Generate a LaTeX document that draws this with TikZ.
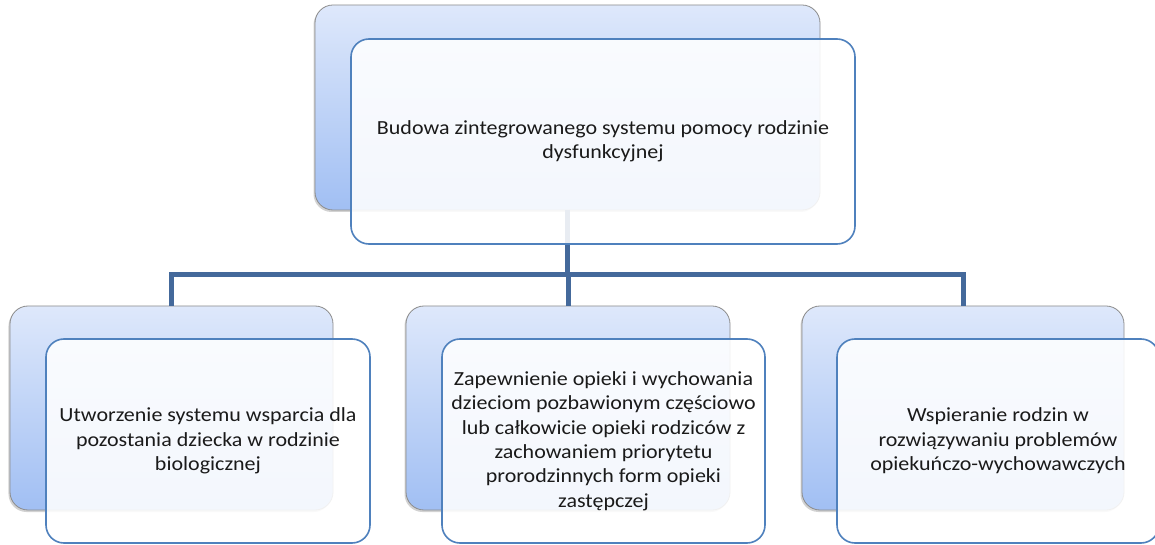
\documentclass[tikz,border=0pt]{standalone}
\usepackage{fontspec}
\setmainfont{Carlito}[FakeStretch=1.1]
\usetikzlibrary{shadows}
\definecolor{connblue}{HTML}{44699B}
\definecolor{frontline}{HTML}{4F81BD}
\definecolor{backtop}{HTML}{DEE8FB}
\definecolor{backbot}{HTML}{A1BFF3}
\definecolor{backline}{HTML}{8C8C8C}
\definecolor{txt}{HTML}{1A1A1A}
\tikzset{
  backbox/.style={rectangle, rounded corners=18bp, draw=backline, line width=0.8bp,
    top color=backtop, bottom color=backbot,
    drop shadow={shadow xshift=-1.5bp, shadow yshift=-2bp, opacity=0.35},
    inner sep=0pt, outer sep=0pt},
  frontbox/.style={rectangle, rounded corners=18bp, draw=frontline, line width=1.6bp,
    fill=white, fill opacity=0.88, text opacity=1, text=txt,
    align=center, font=\fontsize{20bp}{24.4bp}\selectfont,
    inner sep=0pt, outer sep=0pt},
  conn/.style={draw=connblue, line width=5bp, line join=miter},
}
\begin{document}
\begin{tikzpicture}[x=1bp, y=-1bp]
\useasboundingbox (0,0) rectangle (1155,545);
\fill[white] (0,0) rectangle (1155,545);

% back panels
\node[backbox, minimum width=505bp, minimum height=205bp] (tb) at (567.5,107.5) {};
\node[backbox, minimum width=323bp, minimum height=204bp] (b1b) at (171.5,408) {};
\node[backbox, minimum width=324bp, minimum height=204bp] (b2b) at (568,408) {};
\node[backbox, minimum width=322bp, minimum height=204bp] (b3b) at (963,408) {};

% connectors between the levels
\coordinate (bus) at (567.5,275);
\draw[conn] (tb.south) -- (tb.south |- bus);
\draw[conn] (b1b.north) |- (bus) -| (b3b.north);
\draw[conn] (b2b.north) -- (b2b.north |- bus);

% front panels with the texts
\node[frontbox, minimum width=504bp, minimum height=205bp] (tf) at (603,141.5)
  {Budowa zintegrowanego systemu pomocy rodzinie\\dysfunkcyjnej};
\node[frontbox, minimum width=324bp, minimum height=204bp] (b1f) at (208,441)
  {Utworzenie systemu wsparcia dla\\pozostania dziecka w rodzinie\\biologicznej};
\node[frontbox, minimum width=323bp, minimum height=204bp] (b2f) at (603.5,441)
  {Zapewnienie opieki i wychowania\\dzieciom pozbawionym częściowo\\lub całkowicie opieki rodziców z\\zachowaniem priorytetu\\prorodzinnych form opieki\\zastępczej};
\node[frontbox, minimum width=322bp, minimum height=204bp] (b3f) at (998,441)
  {Wspieranie rodzin w\\rozwiązywaniu problemów\\opiekuńczo-wychowawczych};
\end{tikzpicture}
\end{document}
